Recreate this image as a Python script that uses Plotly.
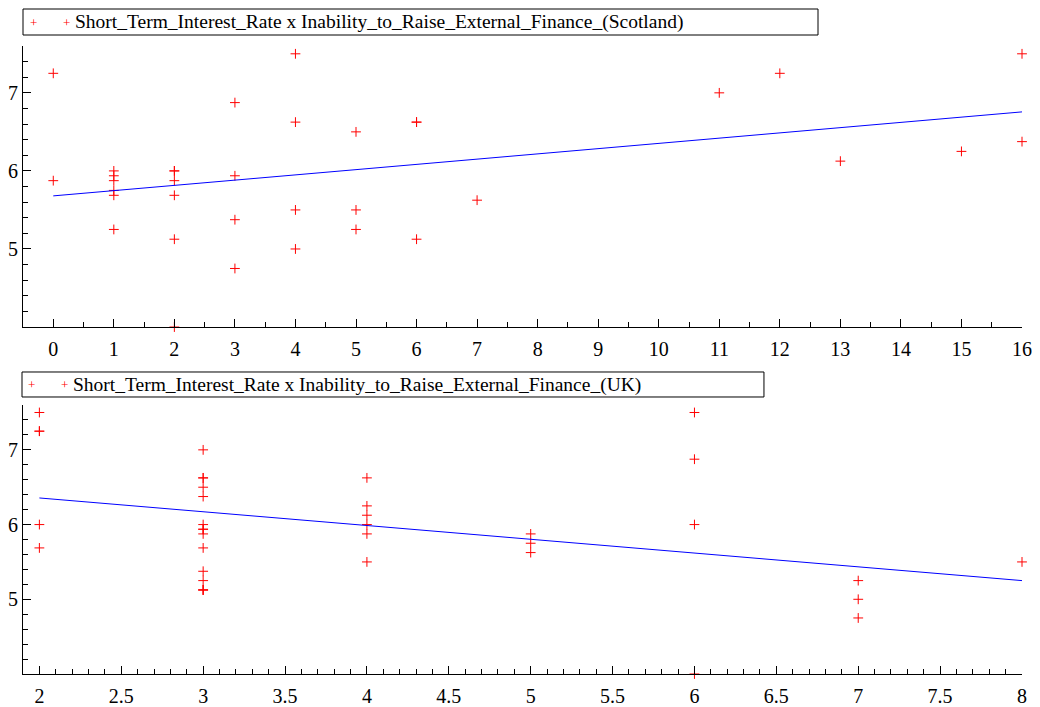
import plotly.graph_objects as go

# ---- Data ----
scot_x = [0, 0,
          1, 1, 1, 1, 1, 1,
          2, 2, 2, 2, 2, 2,
          3, 3, 3, 3,
          4, 4, 4, 4,
          5, 5, 5,
          6, 6, 6,
          7, 11, 12, 13, 15, 16, 16]
scot_y = [7.25, 5.875,
          6.0, 5.9375, 5.875, 5.75, 5.6875, 5.25,
          6.0, 6.0, 5.875, 5.6875, 5.125, 4.0,
          6.875, 5.9375, 5.375, 4.75,
          7.5, 6.625, 5.5, 5.0,
          6.5, 5.5, 5.25,
          6.625, 6.625, 5.125,
          5.625, 7.0, 7.25, 6.125, 6.25, 7.5, 6.375]
scot_fit_x = [0, 16]
scot_fit_y = [5.68, 6.756]

uk_x = [2, 2, 2, 2, 2,
        3, 3, 3, 3, 3, 3, 3, 3, 3, 3, 3, 3, 3, 3, 3,
        4, 4, 4, 4, 4, 4,
        5, 5, 5,
        6, 6, 6, 6,
        7, 7, 7,
        8]
uk_y = [7.5, 7.25, 7.25, 6.0, 5.6875,
        7.0, 6.625, 6.625, 6.5, 6.375, 6.0, 5.9375, 5.9375, 5.875, 5.6875, 5.375, 5.25, 5.125, 5.125, 5.125,
        6.625, 6.25, 6.125, 6.0, 5.875, 5.5,
        5.875, 5.75, 5.625,
        7.5, 6.875, 6.0, 4.0,
        5.25, 5.0, 4.75,
        5.5]
uk_fit_x = [2, 8]
uk_fit_y = [6.356, 5.25]

label_scot = "Short_Term_Interest_Rate x Inability_to_Raise_External_Finance_(Scotland)"
label_uk = "Short_Term_Interest_Rate x Inability_to_Raise_External_Finance_(UK)"

FONT = "'Liberation Serif', 'Times New Roman', Times, serif"
marker = dict(symbol="cross-thin", size=7, line=dict(width=1, color="red"), color="red")

fig = go.Figure()
fig.add_trace(go.Scatter(x=scot_x, y=scot_y, mode="markers", marker=marker,
                         name=label_scot, xaxis="x", yaxis="y", showlegend=False,
                         cliponaxis=False))
fig.add_trace(go.Scatter(x=scot_fit_x, y=scot_fit_y, mode="lines",
                         line=dict(color="blue", width=1), showlegend=False,
                         xaxis="x", yaxis="y"))
fig.add_trace(go.Scatter(x=uk_x, y=uk_y, mode="markers", marker=marker,
                         name=label_uk, xaxis="x2", yaxis="y2", showlegend=False,
                         cliponaxis=False))
fig.add_trace(go.Scatter(x=uk_fit_x, y=uk_fit_y, mode="lines",
                         line=dict(color="blue", width=1), showlegend=False,
                         xaxis="x2", yaxis="y2"))

axis_common = dict(showline=True, linecolor="black", linewidth=1, showgrid=False,
                   zeroline=False, ticks="inside", tickcolor="black", ticklen=8,
                   automargin=False,
                   tickfont=dict(family=FONT, size=20, color="black"))

# Legend-style boxes (drawn as shapes + text, in paper coordinates)
legend_boxes = [
    dict(label=label_scot, x0=0.0, x1=0.7958, y0=1.0175, y1=1.0589, ytext=1.0375,
         xtext=0.0500, plus=[0.0103, 0.0433]),
    dict(label=label_uk, x0=-0.001, x1=0.7417, y0=0.4411, y1=0.4809, ytext=0.4605,
         xtext=0.0478, plus=[0.0087, 0.0413]),
]
shapes = []
annotations = []
for lb in legend_boxes:
    shapes.append(dict(type="rect", xref="paper", yref="paper",
                       x0=lb["x0"], x1=lb["x1"], y0=lb["y0"], y1=lb["y1"],
                       line=dict(color="black", width=1), fillcolor="white"))
    annotations.append(dict(xref="paper", yref="paper", x=lb["xtext"], y=lb["ytext"],
                            xanchor="left", yanchor="middle", showarrow=False,
                            text=lb["label"],
                            font=dict(family=FONT, size=19.5, color="black")))
    for px in lb["plus"]:
        annotations.append(dict(xref="paper", yref="paper", x=px, y=lb["ytext"],
                                xanchor="center", yanchor="middle", showarrow=False,
                                text="+", font=dict(family=FONT, size=13, color="red")))

fig.update_layout(
    width=1040, height=707,
    paper_bgcolor="white", plot_bgcolor="white",
    margin=dict(l=15, r=26, t=38, b=41, autoexpand=False),
    font=dict(family=FONT, color="black"),
    xaxis=dict(domain=[0, 1], range=[-0.5, 16], tickvals=list(range(0, 17)),
               minor=dict(dtick=0.5, tick0=0, ticklen=5, ticks="inside", tickcolor="black"),
               anchor="y", ticklabelstandoff=4, **axis_common),
    yaxis=dict(domain=[0.5525, 1], range=[4, 7.6], tickvals=[5, 6, 7],
               minor=dict(dtick=0.2, tick0=4, ticklen=5, ticks="inside", tickcolor="black"),
               anchor="x", **axis_common),
    xaxis2=dict(domain=[0, 1], range=[1.9, 8],
                tickvals=[2, 2.5, 3, 3.5, 4, 4.5, 5, 5.5, 6, 6.5, 7, 7.5, 8],
                minor=dict(dtick=0.1, tick0=0, ticklen=5, ticks="inside", tickcolor="black"),
                anchor="y2", ticklabelstandoff=4, **axis_common),
    yaxis2=dict(domain=[0, 0.4283], range=[4, 7.6], tickvals=[5, 6, 7],
                minor=dict(dtick=0.2, tick0=4, ticklen=5, ticks="inside", tickcolor="black"),
                anchor="x2", **axis_common),
    shapes=shapes,
    annotations=annotations,
    showlegend=False,
)

fig.write_html("out.html")
